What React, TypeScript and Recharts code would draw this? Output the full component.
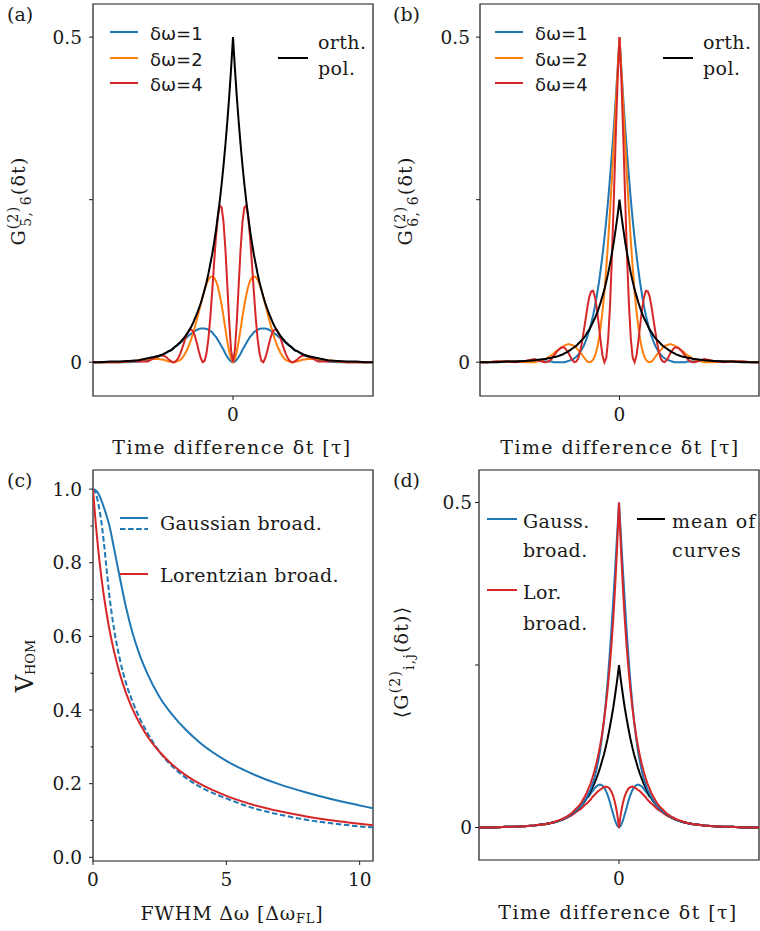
import React from "react";
import { LineChart, Line, XAxis, YAxis, ReferenceArea } from "recharts";

const INK = "#1a1a1a";
const SERIF = "DejaVu Serif";
const SANS = "DejaVu Sans";
const BLUE = "#1f77b4";
const ORANGE = "#ff7f0e";
const RED = "#d62728";

// time grid for the symmetric panels, only t >= 0 (mirrored below)
const T_HALF = [
  0, 0.1, 0.2, 0.3, 0.4, 0.5, 0.6, 0.7, 0.8, 0.9, 1.0, 1.1, 1.2, 1.3, 1.4, 1.5,
  1.6, 1.7, 1.8, 1.9, 2.0, 2.1, 2.2, 2.3, 2.4, 2.5, 2.6, 2.7, 2.8, 2.9, 3.0, 3.1,
  3.2, 3.3, 3.4, 3.5, 3.6, 3.7, 3.8, 3.9, 4.0, 4.5, 5, 5.5, 6, 6.5, 7, 7.4,
];

// (a) G56
const A_BLUE = [
  0, .001, .004, .008, .013, .019, .024, .029, .034, .039, .042, .046, .048, .050, .051, .052,
  .052, .052, .051, .050, .048, .046, .044, .042, .039, .037, .035, .032, .030, .027, .025, .023,
  .020, .018, .017, .015, .013, .012, .010, .009, .008, .003, .001, 0, 0, 0, 0, 0,
];
const A_ORANGE = [
  0, .005, .016, .032, .051, .070, .088, .103, .116, .125, .130, .132, .131, .127, .120, .111,
  .101, .090, .078, .067, .056, .046, .036, .028, .021, .015, .010, .006, .003, .002, .001, 0,
  0, .001, .001, .002, .003, .004, .004, .005, .005, .005, .003, .001, 0, 0, 0, 0,
];
const A_RED = [
  0, .018, .062, .118, .173, .215, .238, .241, .224, .193, .152, .109, .069, .036, .014, .002,
  0, .006, .016, .028, .039, .047, .050, .050, .045, .038, .029, .020, .012, .006, .002, 0,
  0, .002, .004, .007, .009, .010, .011, .010, .009, .001, .001, .002, 0, 0, 0, 0,
];
const A_ORTH = [
  .5, .452, .409, .370, .335, .303, .274, .248, .225, .203, .184, .166, .151, .136, .123, .112,
  .101, .091, .083, .075, .068, .061, .055, .050, .045, .041, .037, .034, .030, .028, .025, .023,
  .020, .018, .017, .015, .014, .012, .011, .010, .009, .006, .003, .002, .001, .001, 0, 0,
];

// (b) G66
const B_BLUE = [
  .5, .451, .405, .362, .322, .285, .250, .219, .191, .165, .142, .121, .103, .086, .072, .060,
  .049, .040, .032, .025, .020, .015, .011, .008, .006, .004, .003, .002, .001, 0, 0, 0,
  0, 0, 0, 0, .001, .001, .001, .001, .002, .002, .002, .002, .001, .001, 0, 0,
];
const B_ORANGE = [
  .5, .448, .393, .338, .284, .234, .187, .145, .109, .079, .054, .034, .020, .010, .004, .001,
  0, .001, .004, .008, .012, .016, .019, .022, .025, .026, .027, .028, .027, .026, .024, .023,
  .020, .018, .016, .013, .011, .009, .007, .005, .004, 0, 0, .001, .001, .001, 0, 0,
];
const B_RED = [
  .5, .435, .347, .252, .163, .089, .036, .007, 0, .010, .032, .058, .082, .100, .110, .109,
  .101, .085, .066, .047, .029, .015, .005, .001, 0, .003, .008, .014, .018, .022, .023, .022,
  .020, .017, .013, .009, .005, .002, .001, 0, 0, .005, .002, 0, .001, .001, 0, 0,
];
const B_ORTH = [
  .25, .226, .205, .185, .168, .152, .137, .124, .112, .102, .092, .083, .075, .068, .062, .056,
  .050, .046, .041, .037, .034, .031, .028, .025, .023, .021, .019, .017, .015, .014, .012, .011,
  .010, .009, .008, .008, .007, .006, .006, .005, .005, .003, .002, .001, .001, 0, 0, 0,
];

// (d) averaged curves
const D_GAUSS_PEAK = [
  .5, .450, .399, .351, .305, .263, .225, .192, .163, .139, .118, .102, .088, .076, .067, .059,
  .053, .047, .042, .038, .034, .031, .028, .025, .023, .021, .019, .017, .015, .014, .012, .011,
  .010, .009, .008, .008, .007, .006, .006, .005, .005, .003, .002, .001, .001, 0, 0, 0,
];
const D_GAUSS_DIP = [
  0, .003, .010, .020, .030, .041, .050, .057, .062, .065, .066, .065, .063, .060, .056, .052,
  .048, .045, .041, .037, .034, .031, .028, .025, .023, .021, .019, .017, .015, .014, .012, .011,
  .010, .009, .008, .008, .007, .006, .006, .005, .005, .003, .002, .001, .001, 0, 0, 0,
];
const D_LOR_PEAK = [
  .5, .431, .372, .322, .280, .244, .213, .186, .163, .143, .126, .111, .098, .087, .077, .068,
  .061, .054, .048, .043, .038, .034, .031, .028, .025, .022, .020, .018, .016, .015, .013, .012,
  .011, .010, .009, .008, .007, .006, .006, .005, .005, .003, .002, .001, .001, 0, 0, 0,
];
const D_LOR_DIP = [
  0, .022, .037, .048, .055, .060, .062, .063, .062, .060, .058, .056, .053, .050, .047, .043,
  .040, .037, .035, .032, .029, .027, .025, .023, .021, .019, .017, .016, .014, .013, .012, .011,
  .010, .009, .008, .007, .007, .006, .006, .005, .005, .003, .002, .001, .001, 0, 0, 0,
];
const D_MEAN = [
  .25, .226, .205, .185, .168, .152, .137, .124, .112, .102, .092, .083, .075, .068, .062, .056,
  .050, .046, .041, .037, .034, .031, .028, .025, .023, .021, .019, .017, .015, .014, .012, .011,
  .010, .009, .008, .008, .007, .006, .006, .005, .005, .003, .002, .001, .001, 0, 0, 0,
];

// (c) visibility vs FWHM
const C_FWHM = [0, 0.1, 0.2, 0.3, 0.4, 0.5, 0.6, 0.8, 1.0, 1.25, 1.5, 1.75, 2, 2.5, 3, 3.5, 4, 5, 6, 7, 8, 9, 10, 10.5];
const C_GAUSS = [1, .997, .988, .972, .952, .93, .905, .835, .762, .675, .605, .55, .505, .435, .385, .345, .312, .262, .226, .198, .176, .157, .141, .133];
const C_GAUSS_DASH = [1, .99, .96, .918, .86, .79, .72, .615, .54, .47, .42, .378, .343, .286, .245, .215, .192, .16, .134, .116, .102, .092, .084, .081];
const C_LOR = [1, .909, .833, .769, .714, .667, .625, .556, .5, .444, .4, .364, .333, .286, .25, .222, .2, .167, .143, .125, .111, .1, .091, .087];

function mirrorRows(series: Record<string, number[]>) {
  const rows: any[] = [];
  for (let i = T_HALF.length - 1; i > 0; i--) {
    const r: any = { t: -T_HALF[i] };
    for (const k in series) r[k] = series[k][i];
    rows.push(r);
  }
  for (let i = 0; i < T_HALF.length; i++) {
    const r: any = { t: T_HALF[i] };
    for (const k in series) r[k] = series[k][i];
    rows.push(r);
  }
  return rows;
}

const rowsA = mirrorRows({ blue: A_BLUE, orange: A_ORANGE, red: A_RED, orth: A_ORTH });
const rowsB = mirrorRows({ blue: B_BLUE, orange: B_ORANGE, red: B_RED, orth: B_ORTH });
const rowsD = mirrorRows({ gp: D_GAUSS_PEAK, gd: D_GAUSS_DIP, lp: D_LOR_PEAK, ld: D_LOR_DIP, mean: D_MEAN });
const rowsC = C_FWHM.map((x, i) => ({ x, g: C_GAUSS[i], gd: C_GAUSS_DASH[i], l: C_LOR[i] }));

const tickStyle = { fill: INK, fontSize: 18.5, fontFamily: SERIF };
const T_DOM: [number, number] = [-7.4, 7.4];

type LineDef = { key: string; color: string };

function TimePanel(props: {
  left: number; top: number; width: number; height: number;
  margin: any; yw: number; xh: number; ydom: [number, number];
  rows: any[]; lines: LineDef[]; yMargin: number;
}) {
  const { left, top, width, height, margin, yw, xh, ydom, rows, lines, yMargin } = props;
  return (
    <div style={{ position: "absolute", left, top }}>
      <LineChart width={width} height={height} data={rows} margin={margin}>
        <XAxis dataKey="t" type="number" domain={T_DOM} allowDataOverflow ticks={[0]} interval={0}
          height={xh} axisLine={false} tickLine={{ stroke: INK }} tickSize={4} tickMargin={8} tick={tickStyle} />
        <YAxis type="number" domain={ydom} allowDataOverflow ticks={[0, 0.25, 0.5]} interval={0}
          width={yw} axisLine={false} tickLine={{ stroke: INK }} tickSize={4} tickMargin={yMargin} tick={tickStyle}
          tickFormatter={(v: number) => (v === 0 ? "0" : v === 0.5 ? "0.5" : "")} />
        {lines.map((l) => (
          <Line key={l.key} dataKey={l.key} type="linear" stroke={l.color} strokeWidth={2}
            dot={false} isAnimationActive={false} />
        ))}
        <ReferenceArea x1={T_DOM[0]} x2={T_DOM[1]} y1={ydom[0]} y2={ydom[1]} fill="none" stroke={INK} strokeWidth={1.2} />
      </LineChart>
    </div>
  );
}

const C_MAJOR = [0, 0.2, 0.4, 0.6, 0.8, 1.0];
const C_ALL = [0, 0.1, 0.2, 0.3, 0.4, 0.5, 0.6, 0.7, 0.8, 0.9, 1.0];

function VisTick(props: any) {
  const { x, y, payload } = props;
  const axisX = x + 4 + 7;
  const v = payload.value;
  const major = C_MAJOR.some((m) => Math.abs(m - v) < 1e-6);
  return (
    <g>
      <line x1={axisX} x2={axisX - (major ? 4 : 2.5)} y1={y} y2={y} stroke={INK} strokeWidth={1} />
      {major && (
        <text x={x} y={y} dy="0.36em" textAnchor="end" {...tickStyle}>{v.toFixed(1)}</text>
      )}
    </g>
  );
}

function VisibilityPanel() {
  return (
    <div style={{ position: "absolute", left: 0, top: 465 }}>
      <LineChart width={380} height={466} data={rowsC} margin={{ top: 5, right: 7, left: 0, bottom: 0 }}>
        <XAxis dataKey="x" type="number" domain={[0, 10.5]} allowDataOverflow ticks={[0, 5, 10]} interval={0}
          height={70} axisLine={false} tickLine={{ stroke: INK }} tickSize={4} tickMargin={8} tick={tickStyle} />
        <YAxis type="number" domain={[-0.01, 1.052]} allowDataOverflow ticks={C_ALL} interval={0}
          width={93} axisLine={false} tickLine={false} tickSize={4} tickMargin={7} tick={<VisTick />} />
        <Line dataKey="g" type="monotone" stroke={BLUE} strokeWidth={2} dot={false} isAnimationActive={false} />
        <Line dataKey="gd" type="monotone" stroke={BLUE} strokeWidth={2} strokeDasharray="5.5 2.6" dot={false} isAnimationActive={false} />
        <Line dataKey="l" type="monotone" stroke={RED} strokeWidth={2} dot={false} isAnimationActive={false} />
        <ReferenceArea x1={0} x2={10.5} y1={-0.01} y2={1.052} fill="none" stroke={INK} strokeWidth={1.2} />
      </LineChart>
    </div>
  );
}

function Leg({ x1, x2, y, color, dash }: { x1: number; x2: number; y: number; color: string; dash?: string }) {
  return <line x1={x1} x2={x2} y1={y} y2={y} stroke={color} strokeWidth={2} strokeDasharray={dash} />;
}

function Overlay() {
  const t = { fill: INK, fontFamily: SERIF, fontSize: 19 };
  const lg = { fill: INK, fontFamily: SERIF, fontSize: 19, letterSpacing: 0.4 };
  const xl = { fill: INK, fontFamily: SERIF, fontSize: 19, letterSpacing: 1.4 };
  const s = { fill: INK, fontFamily: SANS, fontSize: 18 };
  return (
    <svg width={760} height={931} style={{ position: "absolute", left: 0, top: 0, pointerEvents: "none" }}>
      <text x={7} y={21} {...t}>(a)</text>
      <text x={393} y={21} {...t}>(b)</text>
      <text x={7} y={487} {...t}>(c)</text>
      <text x={393} y={487} {...t}>(d)</text>

      {/* (a) legend */}
      <Leg x1={110} x2={138} y={32} color={BLUE} />
      <Leg x1={110} x2={138} y={58} color={ORANGE} />
      <Leg x1={110} x2={138} y={83} color={RED} />
      <text x={150} y={39.5} {...s}>δω=1</text>
      <text x={150} y={65.5} {...s}>δω=2</text>
      <text x={150} y={90.5} {...s}>δω=4</text>
      <Leg x1={278} x2={308} y={58} color="#000" />
      <text x={318} y={49} {...lg}>orth.</text>
      <text x={318} y={75} {...lg}>pol.</text>

      {/* (b) legend */}
      <Leg x1={495} x2={523} y={32} color={BLUE} />
      <Leg x1={495} x2={523} y={58} color={ORANGE} />
      <Leg x1={495} x2={523} y={83} color={RED} />
      <text x={535} y={39.5} {...s}>δω=1</text>
      <text x={535} y={65.5} {...s}>δω=2</text>
      <text x={535} y={90.5} {...s}>δω=4</text>
      <Leg x1={663} x2={693} y={58} color="#000" />
      <text x={703} y={49} {...lg}>orth.</text>
      <text x={703} y={75} {...lg}>pol.</text>

      {/* (c) legend */}
      <Leg x1={120} x2={148} y={518} color={BLUE} />
      <Leg x1={120} x2={148} y={529} color={BLUE} dash="5.5 2.6" />
      <text x={160} y={530} {...lg}>Gaussian broad.</text>
      <Leg x1={120} x2={148} y={574} color={RED} />
      <text x={160} y={582} {...lg}>Lorentzian broad.</text>

      {/* (d) legend */}
      <Leg x1={487} x2={517} y={519} color={BLUE} />
      <text x={523} y={528} {...lg}>Gauss.</text>
      <text x={523} y={557} {...lg}>broad.</text>
      <Leg x1={487} x2={517} y={590} color={RED} />
      <text x={523} y={599} {...lg}>Lor.</text>
      <text x={523} y={630} {...lg}>broad.</text>
      <Leg x1={637} x2={665} y={519} color="#000" />
      <text x={672} y={528} {...lg} letterSpacing={1}>mean of</text>
      <text x={672} y={557} {...lg} letterSpacing={1}>curves</text>

      {/* axis labels */}
      <text x={232} y={454} textAnchor="middle" {...xl}>Time difference δt [τ]</text>
      <text x={620} y={454} textAnchor="middle" {...xl}>Time difference δt [τ]</text>
      <text x={618} y={919} textAnchor="middle" {...xl}>Time difference δt [τ]</text>
      <text x={232} y={920} textAnchor="middle" {...t} letterSpacing={0.8}>
        FWHM Δω [Δω<tspan fontSize={13} dy={3}>FL</tspan><tspan dy={-3}>]</tspan>
      </text>

      <g transform="translate(25,201) rotate(-90)">
        <text textAnchor="middle" {...t} letterSpacing={1.2}>
          G<tspan fontSize={14} dy={-7}>(2)</tspan><tspan fontSize={14} dx={-21} dy={13}>5, 6</tspan><tspan dy={-6}>(δt)</tspan>
        </text>
      </g>
      <g transform="translate(412,201) rotate(-90)">
        <text textAnchor="middle" {...t} letterSpacing={1.2}>
          G<tspan fontSize={14} dy={-7}>(2)</tspan><tspan fontSize={14} dx={-21} dy={13}>6, 6</tspan><tspan dy={-6}>(δt)</tspan>
        </text>
      </g>
      <g transform="translate(33,666) rotate(-90)">
        <text textAnchor="middle" {...t} fontSize={24}>
          V<tspan fontSize={13} dy={2}>HOM</tspan>
        </text>
      </g>
      <g transform="translate(408,662) rotate(-90)">
        <text textAnchor="middle" {...t} letterSpacing={1.2}>
          ⟨G<tspan fontSize={14} dy={-8}>(2)</tspan><tspan fontSize={14} dy={14}>i,j</tspan><tspan dy={-6}>(δt)⟩</tspan>
        </text>
      </g>
    </svg>
  );
}

export default function App() {
  return (
    <div style={{ position: "relative", width: 760, height: 931, background: "#fff" }}>
      <style>{`body{margin:0}`}</style>
      <TimePanel left={0} top={0} width={380} height={465} margin={{ top: 4, right: 7, left: 0, bottom: 0 }}
        yw={93} xh={69} ydom={[-0.052, 0.551]} rows={rowsA} yMargin={7}
        lines={[{ key: "blue", color: BLUE }, { key: "orange", color: ORANGE }, { key: "red", color: RED }, { key: "orth", color: "#000" }]} />
      <TimePanel left={380} top={0} width={380} height={465} margin={{ top: 4, right: 1, left: 0, bottom: 0 }}
        yw={100} xh={69} ydom={[-0.052, 0.551]} rows={rowsB} yMargin={6}
        lines={[{ key: "blue", color: BLUE }, { key: "orange", color: ORANGE }, { key: "red", color: RED }, { key: "orth", color: "#000" }]} />
      <VisibilityPanel />
      <TimePanel left={380} top={465} width={380} height={466} margin={{ top: 5, right: 1, left: 0, bottom: 0 }}
        yw={99} xh={71} ydom={[-0.05, 0.55]} rows={rowsD} yMargin={3}
        lines={[{ key: "gd", color: BLUE }, { key: "ld", color: RED }, { key: "mean", color: "#000" }, { key: "gp", color: BLUE }, { key: "lp", color: RED }]} />
      <Overlay />
    </div>
  );
}
